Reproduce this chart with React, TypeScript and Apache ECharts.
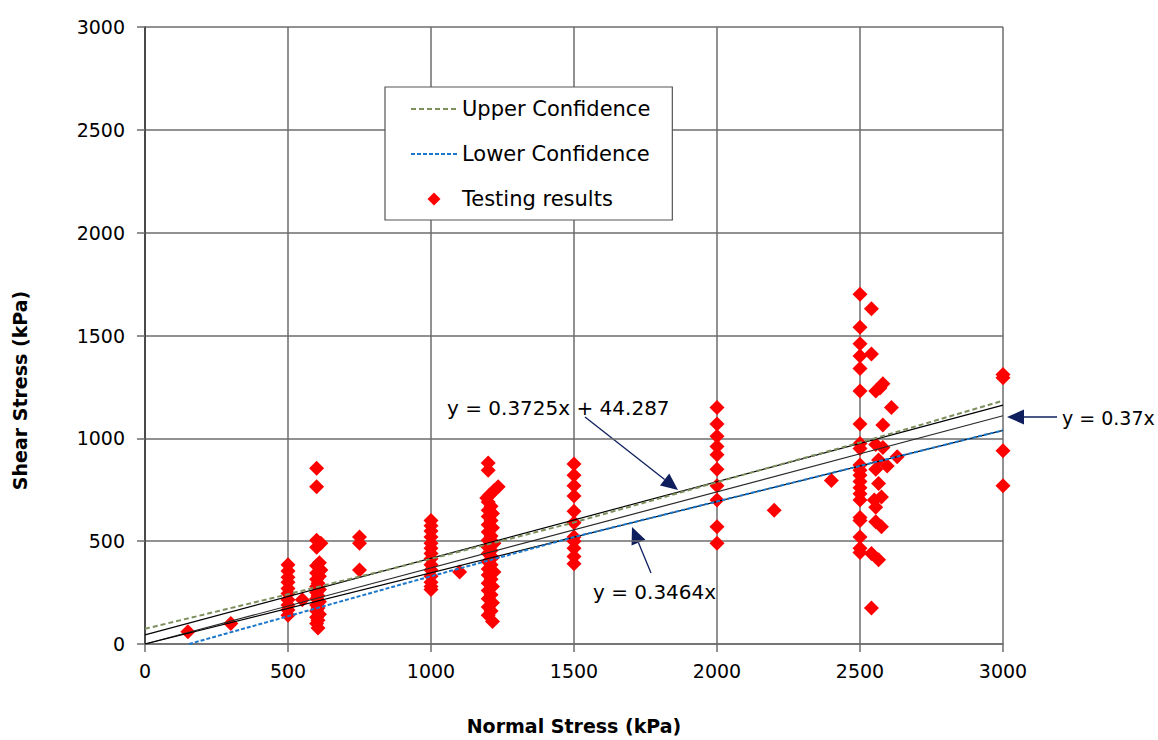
import React, { useEffect, useRef } from "react";
import * as echarts from "echarts";

// ---- Data ----
const xTicks = [0, 500, 1000, 1500, 2000, 2500, 3000];

const singlePoints: [number, number][] = [
  [150, 60], [300, 100], [550, 215], [1100, 350], [2200, 650], [2400, 795],
];
const stressAt500 = [385, 355, 325, 300, 270, 245, 215, 190, 165, 140];
const cluster600: [number, number][] = [
  [600, 855], [600, 765], [600, 505], [615, 490], [600, 470], [610, 395], [600, 380],
  [615, 360], [600, 345], [610, 330], [600, 315], [605, 295], [600, 280], [610, 265],
  [600, 250], [605, 235], [600, 220], [610, 205], [600, 190], [605, 175], [600, 160],
  [610, 145], [600, 130], [605, 115], [600, 100], [605, 78],
];
const stressAt750 = [520, 490, 360];
const stressAt1000 = [600, 575, 550, 520, 490, 465, 440, 415, 385, 360, 330, 300, 280, 265];
const cluster1200: [number, number][] = [
  [1200, 880], [1200, 845], [1235, 765], [1220, 745], [1205, 725], [1195, 710], [1200, 690],
  [1210, 670], [1200, 650], [1215, 635], [1200, 620], [1210, 600], [1200, 580], [1215, 565],
  [1200, 545], [1210, 525], [1200, 505], [1220, 490], [1200, 470], [1210, 455], [1200, 440],
  [1215, 420], [1200, 400], [1210, 385], [1200, 365], [1220, 350], [1200, 335], [1210, 315],
  [1200, 295], [1215, 280], [1200, 260], [1210, 240], [1200, 220], [1215, 200], [1200, 180],
  [1210, 160], [1200, 140], [1215, 110],
];
const stressAt1500 = [875, 820, 770, 720, 645, 590, 520, 500, 465, 425, 390];
const stressAt2000 = [1150, 1070, 1010, 960, 920, 850, 770, 700, 570, 490];
const stressAt2500 = [1700, 1540, 1460, 1400, 1340, 1230, 1070, 975, 950, 870, 845, 820, 790, 760, 730, 700, 615, 600, 520, 465, 445];
const cluster2500Offset: [number, number][] = [
  [2540, 1630], [2540, 1410], [2555, 1230], [2570, 1245], [2580, 1265], [2610, 1150],
  [2580, 1065], [2555, 970], [2580, 955], [2630, 910], [2565, 895], [2595, 865],
  [2555, 850], [2565, 780], [2575, 715], [2550, 700], [2555, 665], [2555, 595],
  [2575, 570], [2540, 440], [2565, 410], [2540, 175],
];
const stressAt3000 = [1310, 1295, 940, 770];

const fitLine: [number, number][] = [[0, 44.3], [3000, 1161.8]];
const line037: [number, number][] = [[0, 0], [3000, 1110]];
const line03464: [number, number][] = [[0, 0], [3000, 1039]];
const upperConf: [number, number][] = [[0, 74], [450, 225], [900, 379], [1500, 591], [2100, 826], [2550, 999], [3000, 1183]];
const lowerConf: [number, number][] = [[154, 0], [500, 135], [892, 288], [1500, 520], [2000, 693], [2500, 866], [3000, 1039]];

const col = (x: number, ys: number[]): [number, number][] => ys.map((y) => [x, y]);
const testing: [number, number][] = [
  ...singlePoints,
  ...col(500, stressAt500),
  ...cluster600,
  ...col(750, stressAt750),
  ...col(1000, stressAt1000),
  ...cluster1200,
  ...col(1500, stressAt1500),
  ...col(2000, stressAt2000),
  ...col(2500, stressAt2500),
  ...cluster2500Offset,
  ...col(3000, stressAt3000),
];

const FONT = "DejaVu Sans";
const NAVY = "#0f1f5e";

function arrow(x1: number, y1: number, x2: number, y2: number) {
  const dx = x2 - x1, dy = y2 - y1;
  const len = Math.hypot(dx, dy);
  const ux = dx / len, uy = dy / len;
  const hl = 17, hw = 7.5;
  const bx = x2 - ux * hl, by = y2 - uy * hl;
  const px = -uy, py = ux;
  return [
    { type: "line", silent: true, shape: { x1, y1, x2: bx, y2: by }, style: { stroke: NAVY, lineWidth: 1.3 } },
    {
      type: "polygon", silent: true,
      shape: { points: [[x2, y2], [bx + px * hw, by + py * hw], [bx - px * hw, by - py * hw]] },
      style: { fill: NAVY },
    },
  ];
}

function label(text: string, x: number, y: number, size = 20) {
  return {
    type: "text", x, y, silent: true,
    style: { text, fill: "#000", font: `${size}px "${FONT}"`, verticalAlign: "middle", align: "left" },
  };
}

export default function App() {
  const ref = useRef<HTMLDivElement>(null);
  useEffect(() => {
    const chart = echarts.init(ref.current!, null, { renderer: "svg" });
    const gridColor = "#6c6c6c";
    chart.setOption({
      animation: false,
      backgroundColor: "#fff",
      grid: { left: 145, right: 155, top: 27, bottom: 92 },
      xAxis: {
        type: "value", min: 0, max: 3000, interval: 500,
        name: "Normal Stress (kPa)", nameLocation: "middle", nameGap: 72,
        nameTextStyle: { fontFamily: FONT, fontSize: 19, fontWeight: "bold", color: "#000" },
        axisLine: { show: true, lineStyle: { color: gridColor, width: 1.5 } },
        axisTick: { show: true, length: 8, lineStyle: { color: gridColor, width: 1.5 } },
        axisLabel: { margin: 17, fontFamily: FONT, fontSize: 19, color: "#000",
          formatter: (v: number) => (xTicks.includes(v) ? String(v) : "") },
        splitLine: { show: true, lineStyle: { color: gridColor, width: 1.5 } },
      },
      yAxis: {
        type: "value", min: 0, max: 3000, interval: 500,
        name: "Shear Stress (kPa)", nameLocation: "middle", nameGap: 116,
        nameTextStyle: { fontFamily: FONT, fontSize: 19, fontWeight: "bold", color: "#000", padding: [0, 110, 0, 0] },
        axisLine: { show: true, lineStyle: { color: "#333", width: 1.5 } },
        axisTick: { show: true, length: 8, lineStyle: { color: gridColor, width: 1.5 } },
        axisLabel: { margin: 20, fontFamily: FONT, fontSize: 19, color: "#000",
          formatter: (v: number) => String(v) },
        splitLine: { show: true, lineStyle: { color: gridColor, width: 1.5 } },
      },
      legend: {
        orient: "vertical", left: 385, top: 87,
        padding: [10, 22, 9, 25], itemGap: 21, itemWidth: 46, itemHeight: 13,
        backgroundColor: "#fff", borderColor: "#555", borderWidth: 1.2,
        textStyle: { fontFamily: FONT, fontSize: 21, color: "#000", lineHeight: 24 },
        data: [
          { name: "Upper Confidence", itemStyle: { opacity: 0 } },
          { name: "Lower Confidence", itemStyle: { opacity: 0 } },
          { name: "Testing results", icon: "path://M0,-1L1,0L0,1L-1,0Z" },
        ],
      },
      series: [
        {
          name: "Testing results", type: "scatter", symbol: "diamond", symbolSize: 15,
          itemStyle: { color: "#ff0000", opacity: 1 }, data: testing, z: 2,
        },
        {
          name: "Fit y = 0.3725x + 44.287", type: "line", data: fitLine, symbol: "none",
          lineStyle: { color: "#000", width: 1.2 }, z: 3,
        },
        {
          name: "Fit y = 0.37x", type: "line", data: line037, symbol: "none",
          lineStyle: { color: "#2a2a2a", width: 1.2 }, z: 3,
        },
        {
          name: "Fit y = 0.3464x", type: "line", data: line03464, symbol: "none",
          lineStyle: { color: "#000", width: 1.2 }, z: 3,
        },
        {
          name: "Upper Confidence", type: "line", data: upperConf, symbol: "none",
          itemStyle: { color: "#7e8f5e" },
          lineStyle: { color: "#7e8f5e", width: 2, type: [5, 3] }, z: 4,
        },
        {
          name: "Lower Confidence", type: "line", data: lowerConf, symbol: "none",
          itemStyle: { color: "#1b78cc" },
          lineStyle: { color: "#1b78cc", width: 2, type: [4, 2] }, z: 4,
        },
      ],
      graphic: [
        label("y = 0.3725x + 44.287", 447, 408),
        ...arrow(585, 417, 678, 490),
        label("y = 0.3464x", 593, 592),
        ...arrow(651, 573, 632, 527),
        label("y = 0.37x", 1062, 418, 19),
        ...arrow(1057, 417, 1007, 417),
      ],
    });
    return () => chart.dispose();
  }, []);
  return (
    <div
      ref={ref}
      style={{ position: "absolute", left: 0, top: 0, width: 1158, height: 740, background: "#fff" }}
    />
  );
}
